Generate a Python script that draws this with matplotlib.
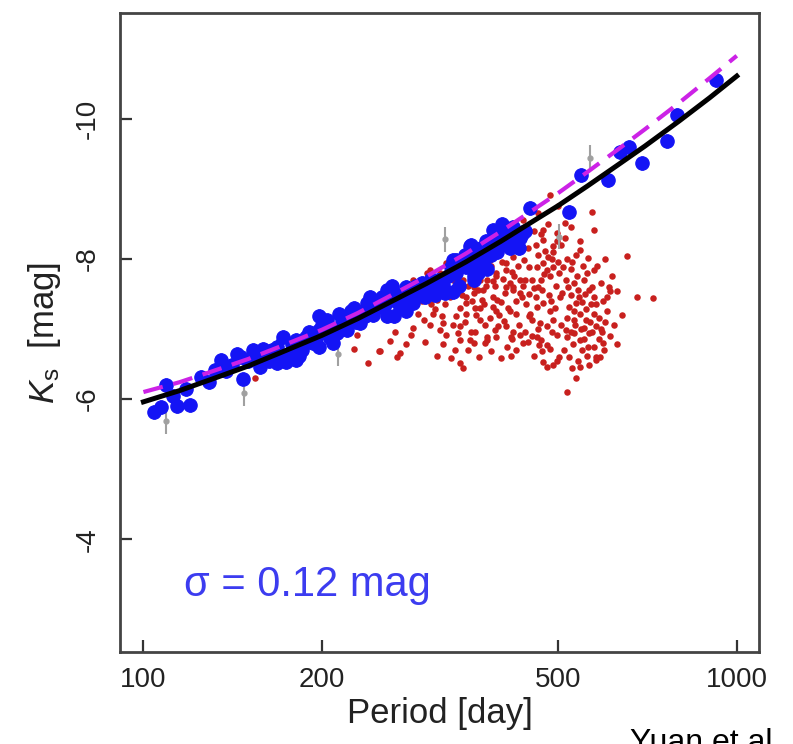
import numpy as np
import matplotlib.pyplot as plt
from matplotlib.ticker import FixedLocator, FixedFormatter, NullLocator

plt.rcParams['font.family'] = ['Liberation Sans', 'DejaVu Sans']
plt.rcParams['axes.unicode_minus'] = False
plt.rcParams['mathtext.fontset'] = 'custom'
plt.rcParams['mathtext.it'] = 'Liberation Sans:italic'
plt.rcParams['mathtext.rm'] = 'Liberation Sans'

# ---- fit curves ----
curve_period = [100, 115, 130, 150, 170, 200, 230, 260, 300, 350, 400, 450,
                500, 560, 630, 700, 800, 900, 1000]
black_mag = [-5.96, -6.12, -6.28, -6.47, -6.66, -6.91, -7.15, -7.38, -7.65,
             -7.96, -8.25, -8.52, -8.76, -9.04, -9.34, -9.61, -9.97, -10.30, -10.61]
magenta_mag = [-6.10, -6.24, -6.39, -6.57, -6.75, -6.99, -7.23, -7.47, -7.75,
               -8.08, -8.39, -8.68, -8.94, -9.24, -9.56, -9.85, -10.23, -10.58, -10.90]

# ---- O-rich Miras (blue) ----
blue_period = [104, 107, 114, 120, 109, 125, 129, 135, 144, 147, 153, 157, 161,
               168, 172, 176, 181, 188, 198, 204, 209, 214, 223, 232, 241, 247,
               257, 271, 277, 277, 285, 320, 333, 355, 360, 374, 389, 409, 425,
               250, 264, 274, 280, 257, 333, 337, 360, 357, 374, 391, 409, 431,
               449, 522, 607, 546, 636, 658, 692, 762, 794, 921,
               168, 174, 181, 193, 198, 206, 198, 212, 229, 238, 254, 264, 271,
               264, 316, 337, 364, 384, 350,
               138, 150, 165, 185, 190, 202, 218, 226, 235, 244, 290, 295, 300,
               305, 310, 326, 345, 370, 380, 395, 402, 415, 420, 440,
               112, 118, 132, 141, 146, 155, 159, 163, 170, 178, 183, 187, 192,
               196, 200, 208, 216, 220, 224, 228, 236, 240, 246, 252, 258, 262,
               268, 282, 288, 298, 308, 314, 322, 330, 340, 348, 356, 366, 378,
               386, 398, 412, 430, 435]
blue_mag = [-5.81, -5.89, -5.90, -5.91, -6.20, -6.32, -6.25, -6.56, -6.65, -6.28,
            -6.70, -6.46, -6.60, -6.75, -6.89, -6.65, -6.84, -6.89, -6.99, -7.13,
            -6.80, -7.22, -7.18, -7.08, -7.46, -7.37, -7.56, -7.46, -7.60, -7.25,
            -7.37, -7.63, -7.99, -8.18, -7.70, -7.94, -8.41, -8.32, -8.27,
            -7.41, -7.51, -7.32, -7.56, -7.18, -7.53, -7.99, -7.75, -8.20, -8.03,
            -8.37, -8.22, -8.30, -8.73, -8.67, -9.13, -9.20, -9.53, -9.60, -9.37,
            -9.68, -10.06, -10.56,
            -6.51, -6.53, -6.56, -6.80, -6.75, -6.87, -7.18, -6.94, -7.22, -7.37,
            -7.32, -7.41, -7.32, -7.18, -7.56, -7.80, -8.03, -8.22, -7.89,
            -6.40, -6.55, -6.70, -6.70, -6.95, -6.95, -7.05, -7.30, -7.25, -7.20,
            -7.50, -7.65, -7.55, -7.72, -7.48, -7.75, -7.95, -8.15, -7.85, -8.10,
            -8.50, -8.15, -8.45, -8.40,
            -6.05, -6.15, -6.42, -6.48, -6.60, -6.58, -6.72, -6.55, -6.62, -6.78,
            -6.62, -6.80, -6.88, -6.90, -7.05, -7.00, -7.10, -6.98, -7.25, -7.10,
            -7.18, -7.30, -7.28, -7.45, -7.40, -7.62, -7.40, -7.48, -7.62, -7.45,
            -7.60, -7.70, -7.52, -7.88, -7.62, -8.05, -7.90, -7.80, -8.25, -8.05,
            -8.25, -8.40, -8.15, -8.35]

# ---- C-rich Miras (red) ----
red_period = [722, 678, 652, 629, 612, 629, 604, 574, 574, 570, 544, 544, 562,
              518, 535, 544, 564, 588, 580, 502, 522, 471, 491, 478, 464, 460,
              467, 478, 484, 417, 437, 445, 342, 335, 376, 379, 357, 355, 393,
              396, 420, 429, 271, 260, 250, 277, 285, 297, 308, 304, 316, 324,
              320, 339, 342, 337, 364, 369, 384, 393, 398, 350, 360, 374, 389,
              407, 420, 431, 414, 449, 460, 472, 451, 466, 478, 491, 484, 460,
              472, 478, 484, 467, 491, 502, 481, 491, 472, 497, 522, 535, 544,
              531, 558, 553, 531, 518, 564, 544, 574, 580, 553, 531, 564, 574,
              472, 505, 513, 484, 304, 285, 297, 324, 346, 369, 384, 398, 420,
              431, 409, 393, 369, 346, 324,
              154, 226, 239, 249, 229, 254, 265, 268, 310, 300, 316, 333, 350,
              360, 379, 393, 409, 420, 431, 350, 369, 389, 409, 425, 342, 360,
              379, 416, 330, 346, 410,
              328, 334, 341, 352, 358, 366, 372, 378, 386, 392, 400, 404, 412,
              418, 424, 436, 442, 446, 455, 458, 463, 470, 475, 482, 488, 495,
              500, 508, 515, 525, 540, 548, 556, 568, 585, 592, 600, 612, 620,
              548, 560, 575, 596, 530, 515, 505, 498, 456, 440, 425, 400, 386,
              368, 352, 320, 312, 298, 290, 282, 312, 305, 318, 295, 455, 445,
              438, 430, 518, 525, 536, 590, 605, 615, 640, 600,
              452, 458, 462, 468, 474, 480, 486, 490, 494, 498, 504, 510, 514,
              520, 528, 532, 538, 542, 550, 555, 560, 566, 570, 578, 582, 590,
              595, 598, 608, 518, 526, 534, 546, 552, 562, 570, 578, 586, 540,
              528, 512, 498, 488, 470, 462, 452,
              302, 310, 322, 330, 338, 344, 348, 355, 362, 366, 375, 382, 388,
              395, 402, 408, 414, 422, 428, 434, 440, 446, 318, 332, 348, 362,
              376, 392, 405, 418, 432, 446, 436, 462, 500, 525]
red_mag = [-7.44, -7.45, -8.04, -6.79, -7.54, -7.54, -7.25, -7.84, -8.41, -8.67,
           -8.25, -8.13, -8.02, -6.10, -6.30, -6.46, -6.49, -6.60, -6.56, -6.60,
           -6.60, -6.53, -6.49, -6.46, -6.77, -6.89, -6.84, -6.77, -6.72, -6.61,
           -6.80, -6.82, -6.52, -6.70, -6.80, -6.89, -6.96, -6.84, -6.89, -7.04,
           -6.96, -7.05, -6.66, -6.83, -6.68, -6.78, -7.01, -7.13, -7.22, -7.06,
           -6.99, -6.91, -7.08, -6.94, -7.04, -7.18, -7.20, -7.30, -7.15, -7.25,
           -7.20, -7.37, -7.51, -7.56, -7.46, -7.51, -7.56, -7.51, -7.65, -7.22,
           -7.32, -7.37, -7.13, -7.08, -7.04, -7.13, -7.25, -7.89, -7.94, -7.84,
           -7.75, -7.70, -7.89, -7.80, -8.03, -8.18, -8.27, -8.37, -7.32, -7.37,
           -7.22, -7.13, -7.13, -7.01, -6.94, -6.89, -6.94, -6.84, -7.22, -7.04,
           -7.70, -7.65, -7.56, -7.46, -8.41, -8.20, -8.51, -8.91, -7.84, -7.70,
           -7.56, -7.94, -8.03, -8.08, -7.99, -8.18, -8.03, -8.13, -7.94, -7.80,
           -7.70, -7.70, -7.70,
           -6.30, -6.72, -6.52, -6.68, -6.91, -7.53, -6.95, -6.60, -7.28, -7.80,
           -7.80, -7.70, -7.46, -7.60, -7.70, -7.75, -7.84, -7.60, -7.70, -7.22,
           -7.13, -7.32, -7.04, -7.22, -6.84, -6.80, -6.84, -6.89, -6.58, -6.45,
           -6.75,
           -7.45, -7.58, -7.30, -7.62, -7.40, -7.85, -7.42, -7.62, -7.90, -7.62,
           -7.38, -7.72, -7.30, -7.82, -7.40, -7.62, -7.35, -7.88, -7.58, -7.45,
           -8.05, -7.55, -8.12, -7.48, -8.00, -7.62, -7.95, -7.52, -7.70, -7.48,
           -7.55, -7.38, -7.28, -7.35, -7.15, -6.95, -7.10, -6.90, -7.05, -6.70,
           -6.62, -6.75, -6.80, -6.78, -6.98, -7.05, -6.92, -6.62, -6.95, -6.70,
           -6.58, -6.68, -6.60, -6.70, -6.78, -6.62, -6.82, -7.22, -6.92, -7.42,
           -7.35, -7.55, -7.40, -8.40, -8.15, -7.98, -8.30, -8.00, -7.85, -8.05,
           -7.65, -7.45, -7.75, -7.20, -8.00,
           -7.70, -8.20, -7.60, -8.35, -7.78, -8.50, -7.40, -8.10, -7.30, -8.25,
           -7.45, -7.88, -8.30, -7.60, -7.95, -7.25, -7.75, -7.45, -7.90, -7.50,
           -7.80, -7.10, -7.60, -7.35, -7.90, -7.00, -7.40, -6.70, -7.60, -7.15,
           -6.95, -7.05, -7.00, -6.85, -6.75, -6.95, -6.60, -6.85, -6.55, -6.45,
           -6.70, -6.55, -6.95, -6.68, -7.00, -6.90,
           -7.50, -7.65, -7.35, -7.85, -7.62, -7.48, -7.88, -8.10, -7.30, -7.55,
           -7.35, -8.05, -7.68, -7.42, -7.95, -7.60, -7.25, -7.75, -7.90, -7.45,
           -7.70, -7.50, -7.18, -7.05, -7.10, -6.95, -7.05, -6.98, -7.12, -6.85,
           -6.92, -7.18, -8.55, -8.65, -8.75, -8.45]

# ---- rejected outliers (grey) ----
grey_period = [109, 148, 213, 322, 501, 565]
grey_mag = [-5.68, -6.08, -6.65, -8.28, -8.32, -9.44]

blue_err = 0.1
grey_err = 0.18

x_ticks = [100, 200, 500, 1000]
y_ticks = [-10, -8, -6, -4]

fig = plt.figure(figsize=(7.93, 7.44), dpi=100)
ax = fig.add_axes([0.1513, 0.1237, 0.8058, 0.8588])

ax.scatter(red_period, red_mag, s=22, color='#c8201e', linewidths=0, zorder=2)
ax.errorbar(blue_period, blue_mag, yerr=blue_err, fmt='o', ms=9.5, color='#1414f5',
            mec='#1414f5', ecolor='#1414f5', elinewidth=2, capsize=0, zorder=3)
ax.errorbar(grey_period, grey_mag, yerr=grey_err, fmt='o', ms=3.5, color='#a0a0a0',
            ecolor='#a0a0a0', elinewidth=1.5, capsize=0, zorder=3)

ax.plot(curve_period, magenta_mag, color='#cc22e6', lw=3, dashes=(4.8, 2.6), zorder=4)
ax.plot(curve_period, black_mag, color='black', lw=3.6, zorder=5)

ax.set_xscale('log')
ax.set_xlim(91.3, 1090)
ax.set_ylim(-2.39, -11.51)

ax.xaxis.set_major_locator(FixedLocator(x_ticks))
ax.xaxis.set_major_formatter(FixedFormatter([str(v) for v in x_ticks]))
ax.xaxis.set_minor_locator(NullLocator())
ax.yaxis.set_major_locator(FixedLocator(y_ticks))
ax.yaxis.set_major_formatter(FixedFormatter([str(v) for v in y_ticks]))

ax.tick_params(direction='in', length=8.5, width=1.6, color='#333333',
               labelsize=20, labelcolor='#222222')
ax.tick_params(axis='x', pad=11)
ax.tick_params(axis='y', pad=14, labelrotation=90)
for lab in ax.get_yticklabels():
    lab.set_va('center')

for sp in ax.spines.values():
    sp.set_linewidth(2)
    sp.set_color('#444444')

ax.set_xlabel('Period [day]', fontsize=25, color='#222222', labelpad=3)
ax.set_ylabel(r'$K_{\mathrm{s}}$  [mag]', fontsize=25, color='#222222', labelpad=8)

ax.text(0.1, 0.105, r'σ = 0.12 mag', transform=ax.transAxes, fontsize=30,
        color='#3c3cf0', ha='left', va='center')

fig.text(630 / 793, 0.022, 'Yuan et al.', fontsize=23, color='black',
         ha='left', va='top')

fig.savefig('out.png', dpi=100)
